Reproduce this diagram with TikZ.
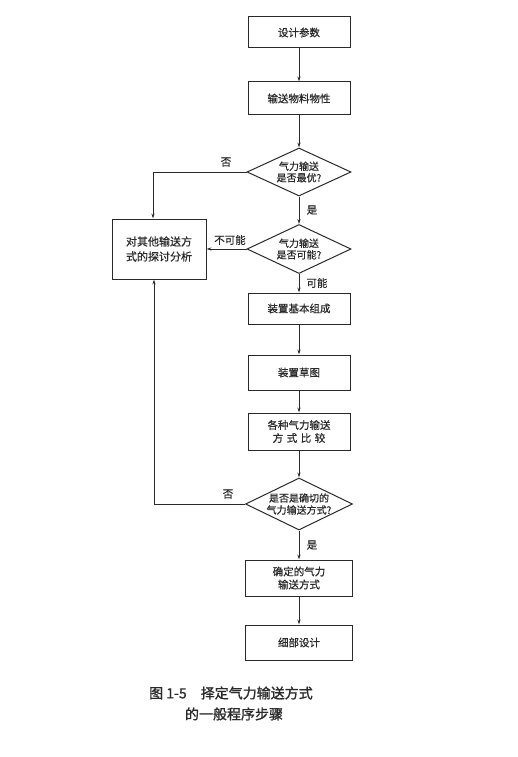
\documentclass[tikz,border=0pt]{standalone}
\usepackage{fontspec}
\setmainfont{Noto Sans CJK SC}
\newfontfamily\capfont{Noto Sans CJK SC}[FakeBold=1.2]
\newfontfamily\boxfont{Noto Sans CJK SC}[FakeBold=0.6]
\usetikzlibrary{shapes.geometric,arrows.meta,calc}
\definecolor{ink}{HTML}{2A2A2A}
\begin{document}
\begin{tikzpicture}[x=1pt,y=-1pt,
  every node/.style={text=ink},
  stepbox/.style={draw=ink,line width=1pt,minimum width=102pt,inner sep=0pt,align=center,font=\boxfont\fontsize{10.5}{13}\selectfont},
  decision/.style={draw=ink,line width=1pt,diamond,inner sep=0pt},
  dtext/.style={align=center,inner sep=0pt,font=\boxfont\fontsize{10}{11.5}\selectfont},
  lbl/.style={inner sep=1pt,font=\boxfont\fontsize{10.5}{12}\selectfont},
  conn/.style={draw=ink,line width=0.8pt,-{Stealth[length=5pt,width=3.2pt]}}
]
\useasboundingbox[fill=white] (0,0) rectangle (518,757);

\node[stepbox,minimum height=31pt] (b1) at (299,32.5) {设计参数};
\node[stepbox,minimum height=33pt] (b2) at (299,98.5) {输送物料物性};
\node[decision,minimum width=104pt,minimum height=48pt] (d1) at (299,172) {};
\node[dtext] (t1) at (d1.center) {气力输送\\是否最优?};
\node[decision,minimum width=104pt,minimum height=49pt] (d2) at (299,249) {};
\node[dtext] (t2) at (d2.center) {气力输送\\是否可能?};
\node[stepbox,minimum width=94pt,minimum height=60pt,font=\boxfont\fontsize{11}{15}\selectfont] (lb) at (159,249) {对其他输送方\\式的探讨分析};
\node[stepbox,minimum height=31pt] (b3) at (299,308.5) {装置基本组成};
\node[stepbox,minimum height=35pt] (b4) at (299,372.5) {装置草图};
\node[stepbox,minimum height=37pt] (b5) at (299,431.5) {各种气力输送\\方\,\,式\,\,比\,\,较};
\node[decision,minimum width=107pt,minimum height=52pt] (d3) at (299,504) {};
\node[dtext,font=\boxfont\fontsize{10}{12}\selectfont] (t3) at (d3.center) {是否是确切的\\气力输送方式?};
\node[stepbox,minimum width=107pt,minimum height=36pt] (b6) at (299,578) {确定的气力\\输送方式};
\node[stepbox,minimum width=107pt,minimum height=35pt] (b7) at (299,642.5) {细部设计};

\coordinate (ltop) at ([xshift=-6pt]lb.north);
\coordinate (lbot) at ([xshift=-5pt]lb.south);

\draw[conn] (b1) -- (b2);
\draw[conn] (b2) -- (d1);
\draw[conn] (d1.west) -| (ltop);
\draw[conn] (d1.south) -- (d2.north);
\draw[conn] (d2.west) -- (lb.east);
\draw[conn] (d2.south) -- (b3);
\draw[conn] (b3) -- (b4);
\draw[conn] (b4) -- (b5);
\draw[conn] (b5) -- (d3);
\draw[conn] (d3.west) -| (lbot);
\draw[conn] (d3.south) -- (b6);
\draw[conn] (b6) -- (b7);

\node[lbl] (l1) at (226,162) {否};
\node[lbl] (l2) at (312,210) {是};
\node[lbl] (l3) at (230,240) {不可能};
\node[lbl] (l4) at (317,283) {可能};
\node[lbl] (l5) at (228,494) {否};
\node[lbl] (l6) at (312,545) {是};

\node[inner sep=0pt,font=\capfont\fontsize{14}{16}\selectfont,anchor=west] (cap1) at (149,693) {图 1-5\hspace{1em}择定气力输送方式};
\node[inner sep=0pt,font=\capfont\fontsize{14}{16}\selectfont] (cap2) at (234,714) {的一般程序步骤};
\end{tikzpicture}
\end{document}
